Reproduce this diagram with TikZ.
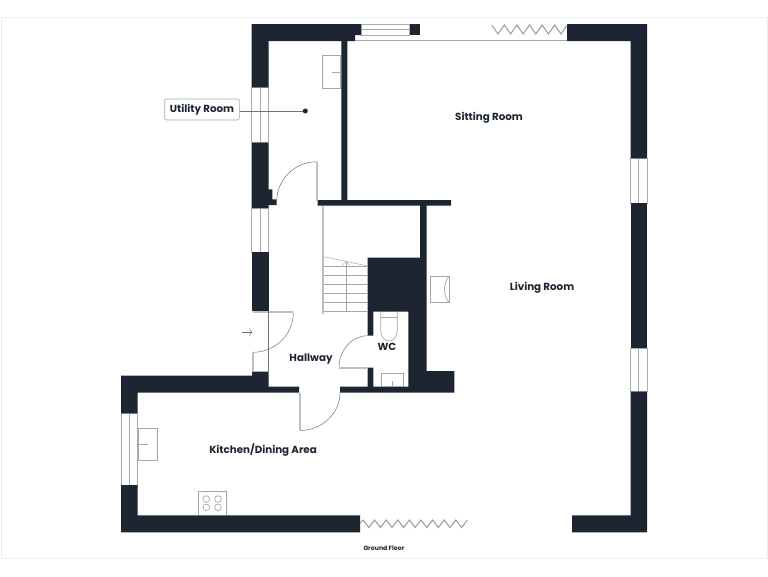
\documentclass[tikz,border=0pt]{standalone}
\usepackage{fontspec}
\usetikzlibrary{arrows.meta}
\setmainfont{Poppins}
\definecolor{wallcolor}{HTML}{1C2531}
\tikzset{
    x=1pt,
    y=-1pt,
    wall/.style={
        fill=wallcolor,
        draw=none
    },
    window/.style={
        draw=gray!65,
        fill=white,
        line width=0.6pt
    },
    fitting/.style={
        draw=gray!70,
        line width=0.7pt
    },
    frame/.style={
        draw=gray!50,
        line width=1.6pt
    },
    swing/.style={
        draw=gray!90!black,
        line width=0.5pt
    },
    folding/.style={
        draw=gray!80,
        line width=1pt
    },
    roomname/.style={
        text=wallcolor,
        font=\fontsize{10.3}{12}\selectfont\bfseries,
        inner sep=0pt
    }
}

\begin{document}
\begin{tikzpicture}
    \useasboundingbox (0,0) rectangle (768,576);
    \draw[gray!15, line width=0.8pt] (1,17) rectangle (767,558);

    % windows
    \draw[window] (361,24) rectangle (409.5,35) (361,29.5) -- (409.5,29.5);
    \draw[window] (251.5,87.3) rectangle (268.5,142.7) (260,87.3) -- (260,142.7);
    \draw[window] (251.5,208) rectangle (268.5,252) (260,208) -- (260,252);
    \draw[window] (121,413.3) rectangle (137.5,485) (129.5,413.3) -- (129.5,485);
    \draw[window] (630.5,158.3) rectangle (647,203.3) (638.7,158.3) -- (638.7,203.3);
    \draw[window] (630.5,348.3) rectangle (647,391.7) (638.7,348.3) -- (638.7,391.7);

    % walls
    \fill[wall] (251.5,24) -- (361,24) -- (361,35) -- (355,35) -- (355,41) -- (268.5,41) -- (268.5,87.3) -- (251.5,87.3) -- cycle;
    \fill[wall] (409.5,24) rectangle (419.5,35);
    \fill[wall] (251.5,142.7) -- (268.5,142.7) -- (268.5,189.3) -- (272.3,189.3) -- (272.3,199.3) -- (276.7,199.3) -- (276.7,205) -- (268.5,205) -- (268.5,208) -- (251.5,208) -- cycle;
    \fill[wall] (251.5,252) rectangle (268.5,311);
    \fill[wall] (121,375.7) -- (252,375.7) -- (252,371.5) -- (268.5,371.5) -- (268.5,386.5) -- (299,386.5) -- (299,392.5) -- (137.5,392.5) -- (137.5,413.3) -- (121,413.3) -- cycle;
    \fill[wall] (121,485) -- (137.5,485) -- (137.5,515.3) -- (360,515.3) -- (360,532.3) -- (121,532.3) -- cycle;
    \fill[wall] (340,386.7) -- (367.7,386.7) -- (367.7,367.7) -- (373.3,367.7) -- (373.3,386.7) -- (408.3,386.7) -- (408.3,311.7) -- (373.3,311.7) -- (373.3,335.7) -- (367.7,335.7) -- (367.7,257.7) -- (420,257.7) -- (420,205.7) -- (317.7,205.7) -- (317.7,200) -- (341.3,200) -- (341.3,41) -- (347.3,41) -- (347.3,200) -- (451,200) -- (451,205.7) -- (426.7,205.7) -- (426.7,371) -- (454.3,371) -- (454.3,392.5) -- (340,392.5) -- cycle;
    \fill[wall] (567,24) -- (647,24) -- (647,158.3) -- (630.5,158.3) -- (630.5,41) -- (567,41) -- cycle;
    \fill[wall] (630.5,203.3) rectangle (647,348.3);
    \fill[wall] (630.5,391.7) -- (647,391.7) -- (647,532.3) -- (572,532.3) -- (572,515.3) -- (630.5,515.3) -- cycle;

    % folding doors
    \draw[fitting] (355,40.5) -- (567,40.5);
    \draw[folding] (491.7,25) \foreach \i in {0,...,5} {-- ++(6.3,9) -- ++(6.3,-9)};
    \draw[folding] (360,523.5) -- (363,520) \foreach \i in {0,...,8} {-- ++(5.8,7.5) -- ++(5.8,-7.5)};

    % doors
    \draw[swing] (316.7,161.7) .. controls (294.6,161.7) and (276.7,179.6) .. (276.7,201.7);
    \draw[frame] (316.7,161.7) -- (316.7,201);
    \draw[swing] (293.3,313) .. controls (293.3,334.7) and (275,352.3) .. (253,352.3);
    \draw[frame] (253,311.8) -- (293.3,311.8);
    \draw[frame] (253,353) -- (253,371.5);
    \draw[swing] (268.5,311) -- (268.5,371.5);
    \draw[swing] (339,367.7) .. controls (339,350) and (352,335.7) .. (367.7,335.7);
    \draw[frame] (339,367.7) -- (367.7,367.7);
    \draw[swing] (340,392.5) .. controls (340,413.5) and (322,430.5) .. (300,430.5);
    \draw[frame] (300,392.5) -- (300,430);

    \coordinate (entrytail) at (242.3,332.3);
    \coordinate (entryhead) at (252.3,332.3);
    \draw[swing, -{To[length=3pt,width=8pt]}] (entrytail) -- (entryhead);

    % stairs
    \draw[frame] (322.7,205.7) -- (322.7,314);
    \draw[fitting, line width=0.5pt] (324,256.7) -- (367.7,266);
    \foreach \y in {266.7,275,284.3,293.3,302.3} {
        \draw[fitting, line width=0.5pt] (324,\y) -- (367.7,\y);
    }
    \draw[fitting, line width=0.5pt] (324,311.7) -- (367.7,311.7);
    \draw[fitting, line width=0.5pt] (346,261.7) -- (346,311.7);
    \draw[fitting, line width=0.5pt] (342.5,265) -- (346,261.7) -- (349.5,265);

    % fittings
    \draw[fitting, line width=1pt] (322,55.7) rectangle (340.7,88.7);
    \draw[fitting, line width=0.5pt] (331.7,72) -- (340.7,72);
    \draw[fitting, line width=1pt] (138,428.7) rectangle (157,460);
    \draw[fitting, line width=0.5pt] (138,444) -- (147.5,444);
    \draw[fitting] (198.3,515.3) -- (198.3,491.3) -- (226.3,491.3) -- (226.3,515.3);
    \foreach \x in {206.3,218} {
        \foreach \y in {499,507.3} {
            \draw[fitting] (\x,\y) circle[radius=3.3];
        }
    }
    \draw[fitting] (380.7,311.7) -- (380.7,330) .. controls (380.7,337) and (385,341) .. (389,341) .. controls (393,341) and (397.3,337) .. (397.3,330) -- (397.3,311.7);
    \draw[fitting] (380.7,317.3) -- (397.3,317.3);
    \draw[fitting, line width=1pt] (381.7,373.3) rectangle (403.3,386.7);
    \draw[fitting, line width=0.5pt] (392.5,381) -- (392.5,386.7);
    \draw[fitting] (430.3,276) rectangle (449,302.7);
    \draw[fitting] (449,276.5) .. controls (443,282) and (443,297) .. (449,302);

    % labels
    \node[roomname] (sitting) at (489,118) {Sitting Room};
    \node[roomname] (living) at (542,288) {Living Room};
    \node[roomname] (hallway) at (311,359) {Hallway};
    \node[roomname] (wc) at (387,347) {WC};
    \node[roomname] (kitchen) at (263,450) {Kitchen/Dining Area};
    \node[text=wallcolor, font=\fontsize{6.2}{7}\selectfont\bfseries, inner sep=0pt] (ground) at (384,548.5) {Ground Floor};

    \node[roomname, draw=gray!70, fill=white, rounded corners=2pt, line width=0.6pt, minimum width=74.6pt, minimum height=21pt] (utilitylabel) at (202,109.5) {Utility Room};
    \node[circle, fill=wallcolor, inner sep=0pt, minimum size=5pt] (utilitydot) at (305.3,111) {};
    \draw[swing] (utilitylabel.east |- utilitydot) -- (utilitydot);
\end{tikzpicture}
\end{document}
